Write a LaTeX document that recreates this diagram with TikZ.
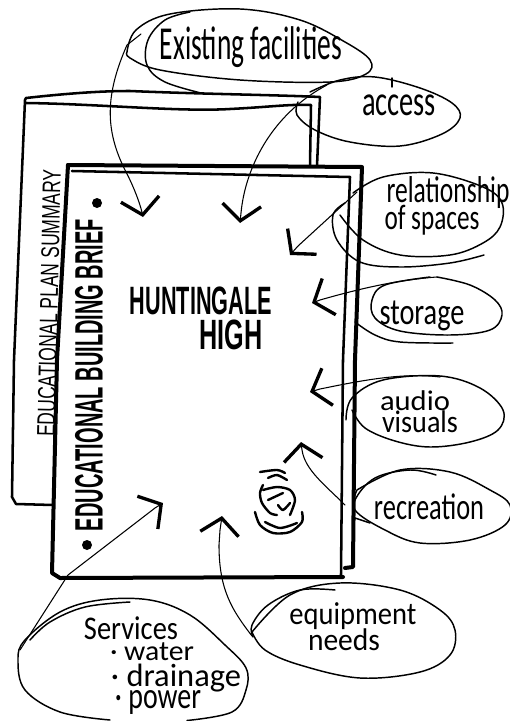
\documentclass[tikz,border=0pt]{standalone}
\usepackage{graphicx}
\usepackage{fontspec}
\setmainfont{Carlito}
\newfontfamily\headfont{Liberation Sans}
\usetikzlibrary{arrows.meta,bending}
\newlength{\pxu}\setlength{\pxu}{0.75pt}
\newcommand{\hand}[3]{\resizebox*{#1\pxu}{#2\pxu}{#3}}
\tikzset{
  txt/.style={inner sep=0pt,outer sep=0pt},
  headtxt/.style={txt,font=\headfont\bfseries},
  pen/.style={line width=1.1pt,line cap=round,line join=round},
  fine/.style={line width=0.8pt,line cap=round,line join=round},
  doc/.style={line width=1.9pt,line cap=round,line join=round},
  docthick/.style={line width=3pt,line cap=round,line join=round},
  scrib/.style={line width=1.8pt,line cap=round,line join=round},
  arr/.style={fine,-{Straight Barb[length=12pt,width=29pt,line width=2.5pt,flex=0]}},
}
\begin{document}
\begin{tikzpicture}[x=0.75pt,y=-0.75pt]
\fill[white] (0,0) rectangle (510,721);
\useasboundingbox (0,0) rectangle (510,721);
% back document
\draw[doc] (53,505) -- (16,504) -- (12,497) -- (14,360) -- (25,100) -- (26,98)
  .. controls (80,92) and (110,91) .. (130,91) .. controls (200,94) and (280,95) .. (320,97) -- (317,166);
\draw[doc] (26,103) .. controls (100,104) and (180,112) .. (230,109) .. controls (270,107) and (290,104) .. (311,105) -- (310,166);
% front document
\draw[docthick] (68,165) -- (362,167) -- (355,360) -- (353,567) -- (345,568);
\draw[doc] (72,171) -- (350,177) -- (343,360) -- (341,575);
\draw[docthick] (68,165) -- (57,360) -- (52,573) -- (60,578) -- (343,577);
% document texts
\node[txt,rotate=88.7] (plan) at (49,303) {\hand{267}{18}{\headfont EDUCATIONAL PLAN SUMMARY}};
\node[headtxt,rotate=90] (brief) at (89,375) {\hand{312}{28}{EDUCATIONAL BUILDING BRIEF}};
\fill (97,203) circle (5);
\fill (87,545) circle (5);
\node[headtxt] (hunt) at (201,301) {\hand{142}{28}{HUNTINGALE}};
\node[headtxt] (high) at (231,335) {\hand{63}{30}{HIGH}};
% logo scribble
\draw[scrib] plot[smooth] coordinates {(260,472)(277,470)(285,473)};
\draw[scrib] plot[smooth] coordinates {(268,478)(277,475)(287,480)};
\draw[scrib] plot[smooth] coordinates {(263,485)(260,493)(262,503)(270,513)(277,515)};
\draw[scrib] plot[smooth] coordinates {(263,490)(277,487)(290,490)(295,500)(290,515)};
\draw[scrib] (268,500) -- (283,493);
\draw[scrib] plot[smooth] coordinates {(278,505)(283,510)(290,503)};
\draw[scrib] plot[smooth] coordinates {(255,512)(260,525)(273,533)(290,532)(302,522)(302,512)};
\draw[scrib] plot[smooth] coordinates {(265,522)(280,528)(297,523)};
% labels
\node[txt] (exist) at (251,47) {\hand{182}{41}{Existing facilities}};
\node[txt] (access) at (399,105) {\hand{74}{21}{access}};
\node[txt] (rel1) at (448,193) {\hand{123}{32}{relationship}};
\node[txt] (rel2) at (432,220) {\hand{95}{30}{of spaces}};
\node[txt] (stor) at (422,316) {\hand{85}{30}{storage}};
\node[txt] (aud) at (415,401) {\hand{70}{20}{audio}};
\node[txt] (vis) at (420,422) {\hand{76}{22}{visuals}};
\node[txt] (rec) at (429,507) {\hand{110}{26}{recreation}};
\node[txt] (equ) at (353,616) {\hand{127}{27}{equipment}};
\node[txt] (nee) at (344,640) {\hand{72}{22}{needs}};
\node[txt] (serv) at (131,628) {\hand{94}{23}{Services}};
\node[txt] (wat) at (152,652) {\hand{84}{18}{· water}};
\node[txt] (dra) at (176,678) {\hand{130}{28}{· drainage}};
\node[txt] (pow) at (158,702) {\hand{86}{24}{· power}};
% outlines
\draw[pen] plot[smooth,tension=.6] coordinates {(127,52)(136,30)(170,14)(240,9)(300,20)(345,42)(370,60)(366,74)(330,82)(240,80)(160,70)(130,58)(127,52)};
\draw[pen] plot[smooth,tension=.6] coordinates {(205,94)(165,82)(147,65)(148,40)(165,20)(190,12)};
\draw[pen] plot[smooth,tension=.6] coordinates {(310,92)(340,80)(375,77)(420,88)(452,103)(460,118)(442,134)(400,146)(350,142)(315,130)(297,115)(298,102)};
\draw[pen] (392,78) -- (392,87);
\draw[pen] plot[smooth,tension=.6] coordinates {(353,193)(383,177)(433,173)(483,187)(502,203)(500,227)(483,243)(450,255)(400,255)(363,240)(340,215)};
\draw[pen] plot[smooth,tension=.6] coordinates {(345,203)(333,215)(337,240)(360,262)(400,267)(450,263)(484,255)};
\draw[pen] plot[smooth,tension=.6] coordinates {(430,277)(385,285)(372,300)(375,318)(400,331)(450,335)(490,330)(502,315)(495,300)(470,285)(437,277)};
\draw[pen] plot[smooth,tension=.6] coordinates {(355,322)(375,335)(400,342)(453,343)};
\draw[pen] plot[smooth,tension=.6] coordinates {(346,420)(352,398)(383,380)(440,376)(480,388)(503,410)(498,430)(470,442)(430,447)(395,441)(365,428)(352,410)};
\draw[pen] plot[smooth,tension=.6] coordinates {(355,520)(355,500)(375,478)(410,470)(436,475)};
\draw[pen] plot[smooth,tension=.6] coordinates {(357,490)(400,470)(450,472)(490,490)(510,505)(505,525)(470,540)(420,543)(385,530)(355,510)(357,490)};
\draw[pen] (355,518) -- (370,523);
\draw[pen] plot[smooth,tension=.6] coordinates {(253,637)(252,625)(268,605)(300,590)(335,590)};
\draw[pen] plot[smooth,tension=.6] coordinates {(252,632)(290,595)(340,583)(400,590)(440,610)(455,630)(450,655)(420,672)(360,678)(300,665)(265,650)(252,632)};
\draw[pen] plot[smooth,tension=.6] coordinates {(30,640)(50,622)(85,607)(130,602)};
\draw[pen] plot[smooth,tension=.6] coordinates {(110,720)(60,712)(25,690)(18,660)(25,640)(60,612)(100,600)(150,600)(190,615)(225,645)(246,668)(246,690)(232,712)(187,720.5)};
% connector ends
\coordinate (existtail) at (141,34);
\coordinate (exithead) at (143,217);
\coordinate (accesstail) at (327,85);
\coordinate (accesshead) at (240,223);
\coordinate (reltail) at (357,192);
\coordinate (relhead) at (290,255);
\coordinate (stortail) at (437,277);
\coordinate (storhead) at (312,303);
\coordinate (audtail) at (440,377);
\coordinate (audhead) at (310,392);
\coordinate (rectail) at (345,505);
\coordinate (rechead) at (301,442);
\coordinate (equtail) at (252,636);
\coordinate (equhead) at (222,516);
\coordinate (servtail) at (20,650);
\coordinate (servhead) at (163,503);
% connectors
\draw[arr] (existtail) -- (127,45) .. controls (105,95) and (105,130) .. (125,170) .. controls (133,185) and (141,205) .. (exithead);
\draw[arr] (accesstail) .. controls (270,115) and (245,170) .. (241,213) -- (accesshead);
\draw[arr] (reltail) -- (298,246) -- (relhead);
\draw[arr] (stortail) .. controls (395,280) and (355,290) .. (320,300) -- (storhead);
\draw[arr] (audtail) .. controls (400,372) and (355,382) .. (320,389) -- (audhead);
\draw[arr] (rectail) .. controls (325,485) and (305,470) .. (302,450) -- (rechead);
\draw[arr] (equtail) .. controls (232,610) and (219,590) .. (219,545) -- (220,530) -- (equhead);
\draw[arr] (servtail) -- (68,575) -- (155,508) -- (servhead);
\end{tikzpicture}
\end{document}
